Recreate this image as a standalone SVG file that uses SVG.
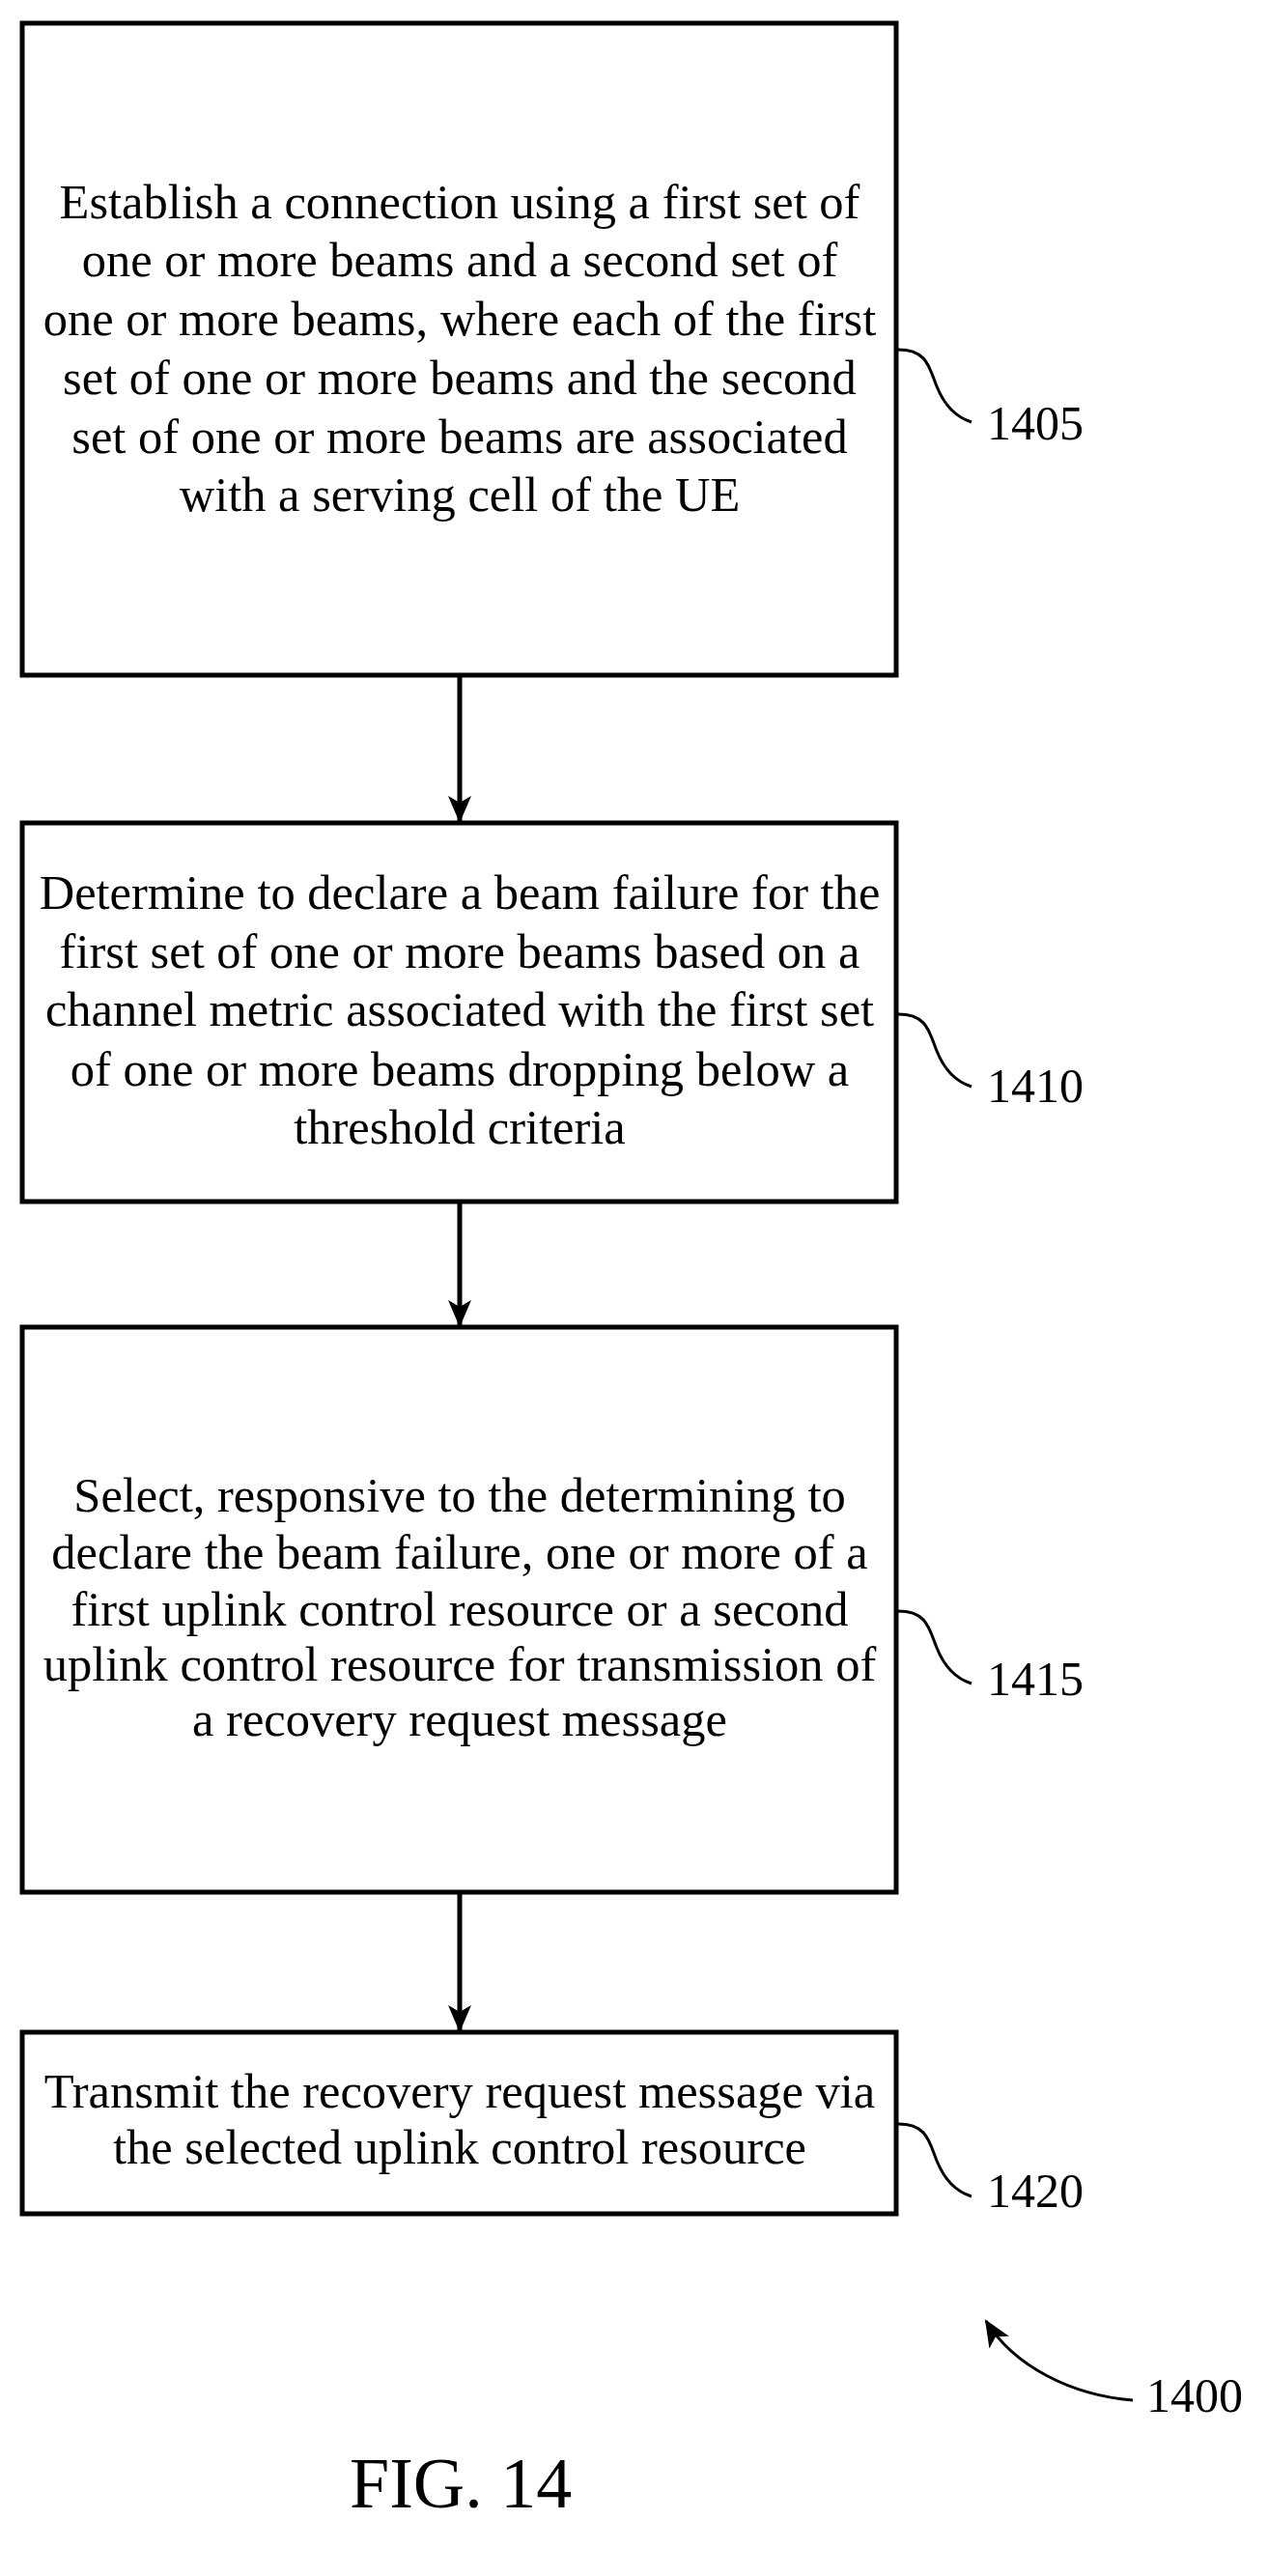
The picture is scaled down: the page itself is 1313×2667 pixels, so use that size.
<svg xmlns="http://www.w3.org/2000/svg" width="1313" height="2667" viewBox="0 0 1313 2667">
<style>
.b{fill:#fff;stroke:#000;stroke-width:5}
.t{font-family:"Liberation Serif",serif;font-size:50.5px;text-anchor:middle;fill:#000}
.l{font-family:"Liberation Serif",serif;font-size:50px;fill:#000}
.c{fill:none;stroke:#000;stroke-width:3}
.a{stroke:#000;stroke-width:5;fill:none}
</style>
<defs>
<marker id="ah2" markerWidth="30" markerHeight="30" refX="26" refY="15" orient="auto" markerUnits="userSpaceOnUse" viewBox="0 0 30 30"><path d="M0,3 L28,15 L0,27 L7,15 Z" fill="#000"/></marker></defs>
<g id="n1405"><rect class="b" x="23" y="24" width="905" height="675"/>
<text class="t" x="476" y="226">Establish a connection using a first set of</text>
<text class="t" x="476" y="286">one or more beams and a second  set of</text>
<text class="t" x="476" y="347">one or more beams, where each of the first</text>
<text class="t" x="476" y="408">set of one or more beams and the second</text>
<text class="t" x="476" y="469">set of one or more beams are associated</text>
<text class="t" x="476" y="529">with a serving cell of the UE</text>
<path class="c" d="M930,362 C960,362 962,380 970,400 C978,420 990,432 1006,437"/>
<text class="l" x="1022" y="455">1405</text></g>
<g id="n1410"><rect class="b" x="23" y="852" width="905" height="392"/>
<text class="t" x="476" y="941">Determine to declare a beam failure for the</text>
<text class="t" x="476" y="1002">first set of one or more beams based on a</text>
<text class="t" x="476" y="1062">channel metric associated with the first set</text>
<text class="t" x="476" y="1124">of one or more beams dropping below a</text>
<text class="t" x="476" y="1184">threshold criteria</text>
<path class="c" d="M930,1050 C960,1050 962,1068 970,1088 C978,1108 990,1120 1006,1125"/>
<text class="l" x="1022" y="1141">1410</text></g>
<g id="n1415"><rect class="b" x="23" y="1374" width="905" height="585"/>
<text class="t" x="476" y="1565">Select, responsive to the determining to</text>
<text class="t" x="476" y="1624">declare the beam failure, one or more of a</text>
<text class="t" x="476" y="1683">first uplink control resource or a second</text>
<text class="t" x="476" y="1740">uplink control resource  for transmission of</text>
<text class="t" x="476" y="1797">a recovery request message</text>
<path class="c" d="M930,1668 C960,1668 962,1686 970,1706 C978,1726 990,1738 1006,1743"/>
<text class="l" x="1022" y="1755">1415</text></g>
<g id="n1420"><rect class="b" x="23" y="2104" width="905" height="188"/>
<text class="t" x="476" y="2182">Transmit the recovery request message via</text>
<text class="t" x="476" y="2240">the selected uplink control resource</text>
<path class="c" d="M930,2199 C960,2199 962,2217 970,2237 C978,2257 990,2269 1006,2274"/>
<text class="l" x="1022" y="2285">1420</text></g>
<g id="connectors">
<line class="a" x1="476" y1="699" x2="476" y2="850" marker-end="url(#ah2)"/>
<line class="a" x1="476" y1="1244" x2="476" y2="1372" marker-end="url(#ah2)"/>
<line class="a" x1="476" y1="1959" x2="476" y2="2102" marker-end="url(#ah2)"/>
<path class="c" d="M1173,2485 C1110,2480 1050,2450 1021,2403" marker-end="url(#ah2)"/>
</g>
<text class="l" x="1187" y="2497">1400</text>
<text class="l" x="362" y="2596" style="font-size:74px">FIG. 14</text>
</svg>
